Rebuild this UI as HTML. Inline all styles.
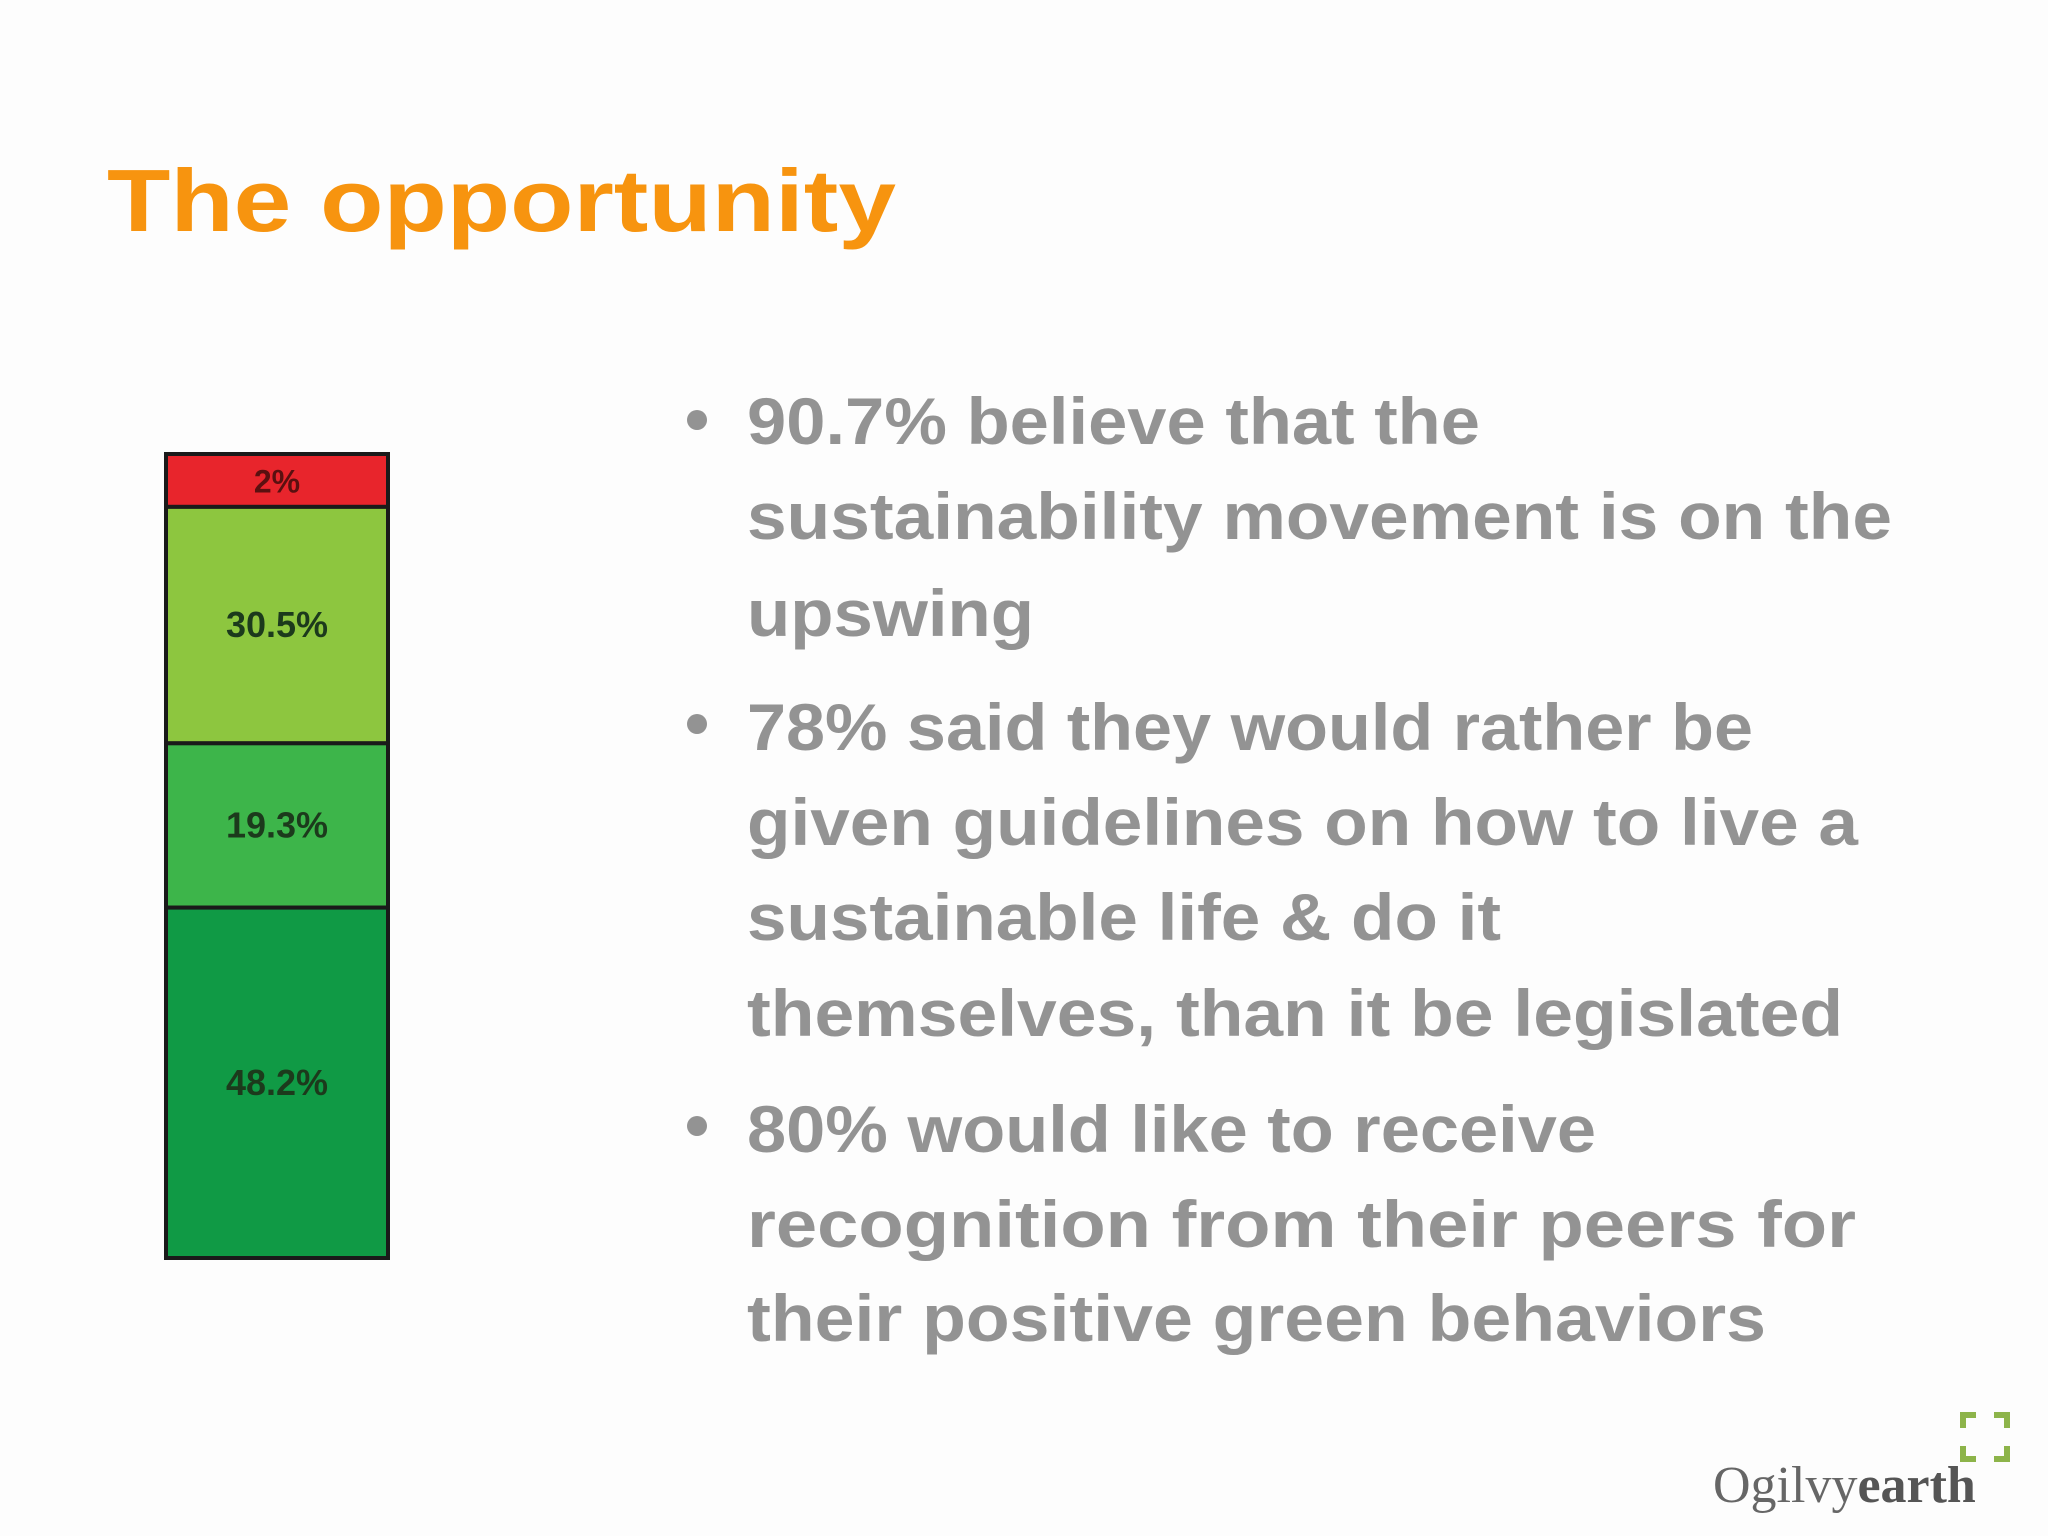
<!DOCTYPE html>
<html><head><meta charset="utf-8"><style>
html,body{margin:0;padding:0;background:#fff;}
svg{display:block;}
</style></head><body>
<svg width="2048" height="1536" viewBox="0 0 2048 1536" xmlns="http://www.w3.org/2000/svg">
<rect width="2048" height="1536" fill="#fdfdfd"/>
<text x="107" y="231" font-family="Liberation Sans, sans-serif" font-weight="bold" font-size="88" fill="#f7940f" textLength="789" lengthAdjust="spacingAndGlyphs">The opportunity</text>
<g id="bar"></g>
<g font-family="Liberation Sans, sans-serif" font-weight="bold" font-size="66" fill="#939393">
<circle cx="697" cy="420" r="10" fill="#939393"/>
<circle cx="697" cy="724" r="10" fill="#939393"/>
<circle cx="697" cy="1126" r="10" fill="#939393"/>
<text x="747" y="444" textLength="733" lengthAdjust="spacingAndGlyphs">90.7% believe that the</text>
<text x="747" y="539" textLength="1145" lengthAdjust="spacingAndGlyphs">sustainability movement is on the</text>
<text x="747" y="636" textLength="287" lengthAdjust="spacingAndGlyphs">upswing</text>
<text x="747" y="750" textLength="1006" lengthAdjust="spacingAndGlyphs">78% said they would rather be</text>
<text x="747" y="845" textLength="1111" lengthAdjust="spacingAndGlyphs">given guidelines on how to live a</text>
<text x="747" y="940" textLength="754" lengthAdjust="spacingAndGlyphs">sustainable life &amp; do it</text>
<text x="747" y="1036" textLength="1096" lengthAdjust="spacingAndGlyphs">themselves, than it be legislated</text>
<text x="747" y="1152" textLength="849" lengthAdjust="spacingAndGlyphs">80% would like to receive</text>
<text x="747" y="1247" textLength="1109" lengthAdjust="spacingAndGlyphs">recognition from their peers  for</text>
<text x="747" y="1341" textLength="1019" lengthAdjust="spacingAndGlyphs">their positive green behaviors</text>
</g>
<g>
<text x="1713" y="1502" font-family="Liberation Serif, serif" font-size="52" fill="#666">Ogilvy<tspan font-weight="bold" fill="#555">earth</tspan></text>
<g fill="#8db44a">
<path d="M1960 1412h16v6h-10v10h-6z"/><path d="M2010 1412h-16v6h10v10h6z"/>
<path d="M1960 1462h16v-6h-10v-10h-6z"/><path d="M2010 1462h-16v-6h10v-10h6z"/>
</g>
</g>
</svg>
<script>
const segLabels = ["2%", "30.5%", "19.3%", "48.2%"];
const segValues = [2, 30.5, 19.3, 48.2];
const segColors = ["#e8252c", "#8dc63f", "#3db54a", "#109a45"];
(function(){
  const NS = "http://www.w3.org/2000/svg";
  const g = document.getElementById('bar');
  const top = 454, total = 804, minH = 40;
  const k = (total - minH*segValues.length) / segValues.reduce((a,b)=>a+b,0);
  const yScale = v => minH + v*k;
  let y = top;
  segValues.forEach((v,i)=>{
    const h = yScale(v);
    const r = document.createElementNS(NS,'rect');
    r.setAttribute('x', 166); r.setAttribute('y', y);
    r.setAttribute('width', 222); r.setAttribute('height', h);
    r.setAttribute('fill', segColors[i]);
    r.setAttribute('stroke', '#1a1a1a'); r.setAttribute('stroke-width', 4);
    
    
    g.appendChild(r);
    const t = document.createElementNS(NS,'text');
    t.setAttribute('x', 277); t.setAttribute('y', y + h/2 + 12);
    t.setAttribute('text-anchor','middle');
    t.setAttribute('font-family','Liberation Sans, sans-serif');
    t.setAttribute('font-weight','bold');
    t.setAttribute('font-size', i===0 ? 32 : 36);
    t.setAttribute('fill', i===0 ? '#5a1010' : '#1c3a1c');
    t.textContent = segLabels[i];
    
    
    g.appendChild(t);
    y += h;
  });
})();
</script>
</body></html>
